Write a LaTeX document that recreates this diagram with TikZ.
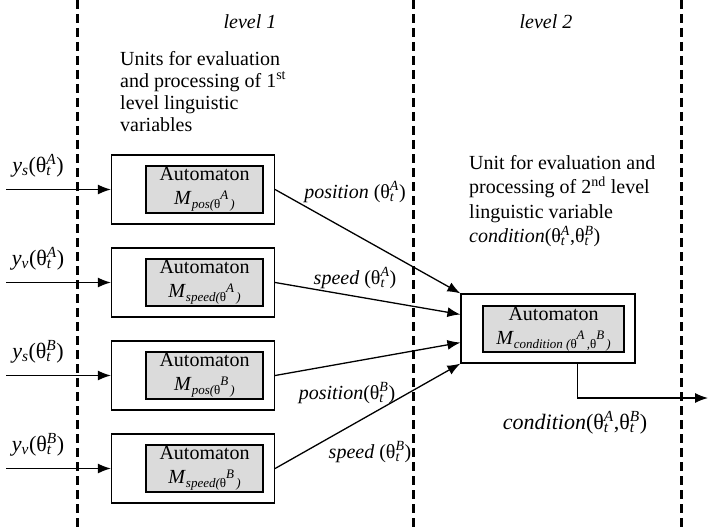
\documentclass[tikz,border=0pt]{standalone}
\usepackage{fontspec}
\setmainfont{Liberation Serif}
\usetikzlibrary{arrows.meta,calc}
\newcommand{\thv}[1]{{\upshape θ}\rlap{\textsubscript{\itshape t}}\textsuperscript{\itshape #1}}
\newcommand{\Mv}[2]{\textit{M}\raisebox{-0.45ex}{\fontsize{13}{13}\selectfont\itshape #1({\upshape θ}\raisebox{1.5ex}{#2}\,)}}
\begin{document}
\begin{tikzpicture}[x=1pt,y=-1pt,
  outerbox/.style={draw, line width=1.2pt, minimum width=163pt, minimum height=69pt, inner sep=0pt},
  innerbox/.style={draw, fill=black!14, line width=1.2pt, minimum width=117pt, minimum height=47pt, inner sep=0pt, align=center, font=\fontsize{20}{24}\selectfont},
  arr/.style={-{Latex[length=13pt,width=10pt]}, line width=1.3pt},
  divider/.style={line width=3pt, dash pattern=on 9pt off 5pt},
  inlab/.style={font=\fontsize{22}{24}\selectfont, inner sep=0pt},
  edgelab/.style={font=\fontsize{20}{22}\selectfont, inner sep=0pt},
  txt/.style={font=\fontsize{20}{22}\selectfont, inner sep=0pt, align=left}]
\useasboundingbox (0,0) rectangle (709,532);
% dividers
\coordinate (d1t) at (77,0); \coordinate (d1b) at (77,532);
\coordinate (d2t) at (413,0); \coordinate (d2b) at (413,532);
\coordinate (d3t) at (681,0); \coordinate (d3b) at (681,532);
\draw[divider] (d1t) -- (d1b);
\draw[divider] (d2t) -- (d2b);
\draw[divider] (d3t) -- (d3b);
% level labels
\node[edgelab] (lv1) at (250,22) {\itshape level 1};
\node[edgelab] (lv2) at (546,22) {\itshape level 2};
% descriptive texts
\node[txt, anchor=north west] (u1) at (120,51) {Units for evaluation\\and processing of 1\textsuperscript{st}\\level linguistic\\variables};
\node[txt, anchor=north west, font=\fontsize{20}{24.5}\selectfont] (u2) at (469,155) {Unit for evaluation and\\processing of 2\textsuperscript{nd} level\\linguistic variable\\\textit{condition}(\thv{A},\thv{B})};
% level 1 units
\node[outerbox] (o1) at (193,189.5) {};
\node[outerbox] (o2) at (193,282.5) {};
\node[outerbox] (o3) at (193,375.5) {};
\node[outerbox] (o4) at (193,468.5) {};
\node[innerbox] (i1) at (204.5,189.5) {Automaton\\\Mv{pos}{A}};
\node[innerbox] (i2) at (204.5,282.5) {Automaton\\\Mv{speed}{A}};
\node[innerbox] (i3) at (204.5,375.5) {Automaton\\\Mv{pos}{B}};
\node[innerbox] (i4) at (204.5,468.5) {Automaton\\\Mv{speed}{B}};
% level 2 unit
\node[outerbox, minimum width=174pt] (L2) at (548,328.5) {};
\node[innerbox, minimum width=141pt, minimum height=46pt] (L2i) at (553.5,329) {Automaton\\\textit{M}\raisebox{-0.45ex}{\fontsize{13}{13}\selectfont\itshape condition ({\upshape θ}\raisebox{1.5ex}{A}\,,{\upshape θ}\raisebox{1.5ex}{B}\,)}};
% inputs
\coordinate (s1) at (6,189.5);
\coordinate (s2) at (6,282.5);
\coordinate (s3) at (6,375.5);
\coordinate (s4) at (6,468.5);
\draw[arr] (s1) -- (o1.west);
\draw[arr] (s2) -- (o2.west);
\draw[arr] (s3) -- (o3.west);
\draw[arr] (s4) -- (o4.west);
\node[inlab] (l1) at (38,166) {\textit{y}\textsubscript{\itshape s}(\thv{A})};
\node[inlab] (l2) at (38,259) {\textit{y}\textsubscript{\itshape v}(\thv{A})};
\node[inlab] (l3) at (38,352) {\textit{y}\textsubscript{\itshape s}(\thv{B})};
\node[inlab] (l4) at (38,445) {\textit{y}\textsubscript{\itshape v}(\thv{B})};
% connections to level 2
\draw[arr] (o1.east) -- (L2.north west);
\draw[arr] (o2.east) -- ($(L2.north west)!0.30!(L2.south west)$);
\draw[arr] (o3.east) -- ($(L2.north west)!0.70!(L2.south west)$);
\draw[arr] (o4.east) -- (L2.south west);
\node[edgelab] (e1) at (355,192) {\textit{position} (\thv{A})};
\node[edgelab] (e2) at (355,278) {\textit{speed} (\thv{A})};
\node[edgelab] (e3) at (347,393) {\textit{position}(\thv{B})};
\node[edgelab] (e4) at (370,452) {\textit{speed} (\thv{B})};
% output
\coordinate (ostart) at ($(L2.south west)!0.667!(L2.south east)$);
\coordinate (oend) at (708,398);
\draw[arr] (ostart) |- (oend);
\node[inlab] (ol) at (575,423) {\textit{condition}(\thv{A},\thv{B})};
\end{tikzpicture}
\end{document}
